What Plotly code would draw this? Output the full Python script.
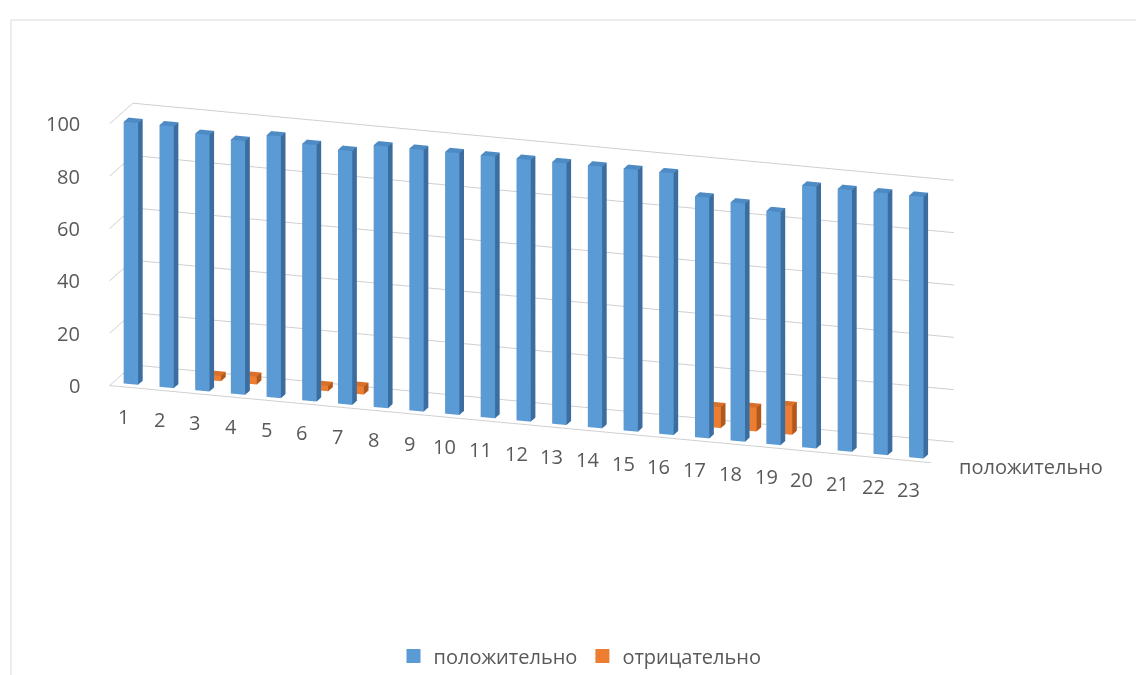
import math
import plotly.graph_objects as go

categories = [str(i) for i in range(1, 24)]
series_names = ["положительно", "отрицательно"]
positive = [100, 100, 98, 97, 100, 98, 97, 100, 100, 100, 100, 100,
            100, 100, 100, 100, 92, 91, 89, 100, 100, 100, 100]
negative = [0, 0, 2, 3, 0, 2, 3, 0, 0, 0, 0, 0,
            0, 0, 0, 0, 8, 9, 11, 0, 0, 0, 0]
y_ticks = [0, 20, 40, 60, 80, 100]

colors = {
    "положительно": ("#5B9BD5", "#3C6D9E", "#4E8AC4"),
    "отрицательно": ("#ED7D31", "#B0591F", "#D96F28"),
}

BAR_W = 0.4   # fraction of category slot (gap width 150%)
BAR_D = 0.4   # fraction of series slot
TEXT = "#595959"


def box_mesh(values, depth_idx, name):
    front, side, top = colors[name]
    xs, ys, zs, I, J, K, fc = [], [], [], [], [], [], []
    for ci, v in enumerate(values):
        if v <= 0:
            continue
        xc = ci + 1
        yc = depth_idx
        x0, x1 = xc - BAR_W / 2, xc + BAR_W / 2
        y0, y1 = yc - BAR_D / 2, yc + BAR_D / 2
        z0, z1 = 0, v
        b = len(xs)
        pts = [(x0, y0, z0), (x1, y0, z0), (x1, y1, z0), (x0, y1, z0),
               (x0, y0, z1), (x1, y0, z1), (x1, y1, z1), (x0, y1, z1)]
        for p in pts:
            xs.append(p[0]); ys.append(p[1]); zs.append(p[2])
        faces = [
            ((0, 1, 5), front), ((0, 5, 4), front),
            ((3, 2, 6), front), ((3, 6, 7), front),
            ((0, 3, 7), side), ((0, 7, 4), side),
            ((1, 2, 6), side), ((1, 6, 5), side),
            ((4, 5, 6), top), ((4, 6, 7), top),
            ((0, 1, 2), front), ((0, 2, 3), front),
        ]
        for (a, bb, c), col in faces:
            I.append(b + a); J.append(b + bb); K.append(b + c); fc.append(col)
    return go.Mesh3d(
        x=xs, y=ys, z=zs, i=I, j=J, k=K, facecolor=fc,
        flatshading=True,
        lighting=dict(ambient=1, diffuse=0, specular=0, roughness=1, fresnel=0),
        hoverinfo="skip", showlegend=False, name=name,
    )


fig = go.Figure()
fig.add_trace(box_mesh(positive, 1, series_names[0]))
fig.add_trace(box_mesh(negative, 2, series_names[1]))

# legend entries
for name in series_names:
    fig.add_trace(go.Scatter3d(
        x=[None], y=[None], z=[None], mode="markers", name=name,
        marker=dict(symbol="square", size=14, color=colors[name][0]),
        showlegend=True, hoverinfo="skip",
    ))

theta = math.radians(18)
phi = math.radians(16.8)
D = 1.9
direction = (math.sin(theta) * math.cos(phi), -math.cos(theta) * math.cos(phi), math.sin(phi))
center = (0.154, -0.0115, -0.176)
eye = tuple(c + D * d for c, d in zip(center, direction))

tick_font = dict(family="Open Sans", size=20, color=TEXT)

# tick labels as upright scene annotations anchored in data coordinates
annotations = []
for v in y_ticks:
    annotations.append(dict(
        x=0.5, y=0.5, z=v, text=str(v), showarrow=False,
        xanchor="right", yanchor="middle", xshift=-28, font=tick_font))
for k, lab in enumerate(categories):
    annotations.append(dict(
        x=k + 1, y=0.5, z=0, text=lab, showarrow=False,
        xanchor="center", yanchor="middle", xshift=-4, yshift=-29, font=tick_font))
annotations.append(dict(
    x=23.45, y=1, z=0, text=series_names[0], showarrow=False,
    xanchor="left", yanchor="middle", xshift=22, yshift=-9, font=tick_font))

fig.update_layout(
    width=1144, height=675,
    margin=dict(l=0, r=0, t=0, b=0),
    paper_bgcolor="white",
    font=dict(family="Open Sans", color=TEXT),
    scene=dict(
        domain=dict(x=[0, 1], y=[0, 1]),
        aspectmode="manual",
        aspectratio=dict(x=2.558, y=0.2225, z=0.81),
        camera=dict(
            eye=dict(x=eye[0], y=eye[1], z=eye[2]),
            center=dict(x=center[0], y=center[1], z=center[2]),
            up=dict(x=0, y=0, z=1),
            projection=dict(type="orthographic"),
        ),
        xaxis=dict(
            range=[0.5, 23.5], tickvals=list(range(1, 24)),
            showticklabels=False,
            showgrid=False, showline=True, linecolor="#d0d0d0", linewidth=2,
            zeroline=False, ticks="", title=dict(text=""),
            showbackground=False, showspikes=False,
        ),
        yaxis=dict(
            range=[0.5, 2.5], tickvals=[1, 2], showticklabels=False,
            showgrid=False, showline=False, zeroline=False, ticks="",
            title=dict(text=""),
            showbackground=False, showspikes=False,
        ),
        zaxis=dict(
            range=[0, 100], tickvals=y_ticks, showticklabels=False,
            showgrid=True, gridcolor="#cfcfcf", gridwidth=2,
            showline=False, zeroline=False, ticks="",
            title=dict(text=""),
            showbackground=False, showspikes=False,
        ),
        annotations=annotations,
    ),
    legend=dict(
        orientation="h", x=0.5, xanchor="center", y=0.04, yanchor="middle",
        font=dict(family="Open Sans", size=20, color=TEXT),
        bgcolor="rgba(0,0,0,0)",
    ),
    shapes=[
        dict(type="line", xref="paper", yref="paper", x0=3 / 1144, x1=1.01,
             y0=1 - 12 / 675, y1=1 - 12 / 675, line=dict(color="#d9d9d9", width=1)),
        dict(type="line", xref="paper", yref="paper", x0=3 / 1144, x1=3 / 1144,
             y0=-0.01, y1=1 - 12 / 675, line=dict(color="#d9d9d9", width=1)),
    ],
)

fig.write_html("out.html")
